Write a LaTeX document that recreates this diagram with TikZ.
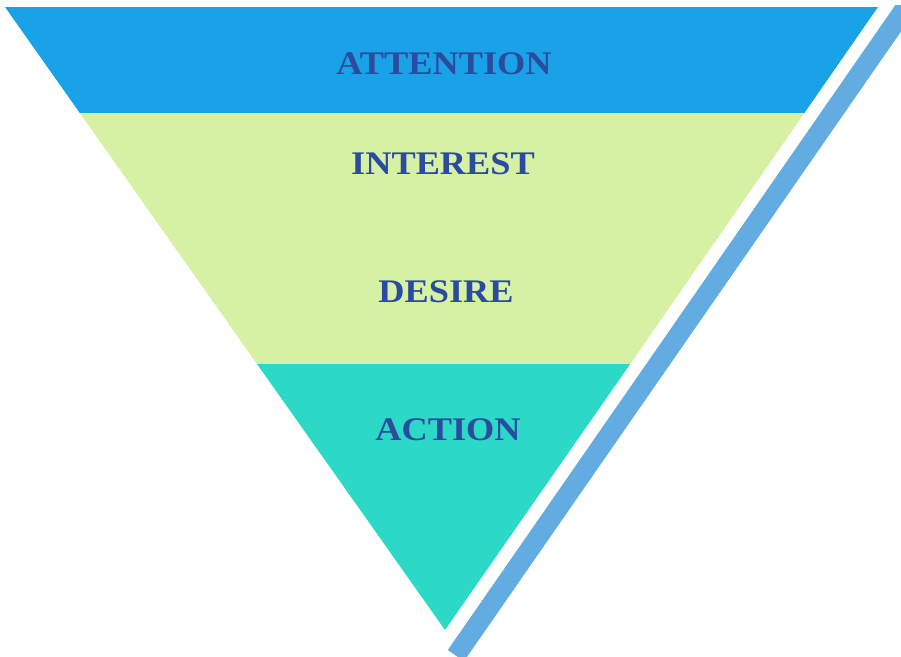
\documentclass[tikz,border=0pt]{standalone}
\usepackage{fontspec}
\newfontfamily\lblfont[FakeStretch=1.1]{Liberation Serif}
\definecolor{bandblue}{HTML}{1AA2E8}
\definecolor{bandgreen}{HTML}{D6F0A4}
\definecolor{bandteal}{HTML}{2CD9C6}
\definecolor{stripeblue}{HTML}{62ACE2}
\definecolor{textblue}{HTML}{2B4C9E}
\begin{document}
\begin{tikzpicture}[x=1pt,y=1pt,
  lbl/.style={font=\lblfont\bfseries\fontsize{33}{33}\selectfont, text=textblue, inner sep=0pt}]
\useasboundingbox (0,0) rectangle (901,-656);
\begin{scope}
\clip (0,0) rectangle (901,-656);
% stripe
\fill[stripeblue] (895.4,-5) -- (919.4,-5) -- (464,-661.2) -- (447.8,-650) -- cycle;
\end{scope}
% bands
\fill[bandblue] (5,-7) -- (878,-7) -- (804.4,-113) -- (79.8,-113) -- cycle;
\fill[bandgreen] (79.8,-113) -- (804.4,-113) -- (630.2,-364) -- (257,-364) -- cycle;
\fill[bandteal] (257,-364) -- (630.2,-364) -- (445,-630) -- cycle;
% labels
\node[lbl] (attention) at (444,-64) {ATTENTION};
\node[lbl] (interest) at (443,-164) {INTEREST};
\node[lbl] (desire) at (446,-292) {DESIRE};
\node[lbl] (action) at (448,-430) {ACTION};
\end{tikzpicture}
\end{document}
